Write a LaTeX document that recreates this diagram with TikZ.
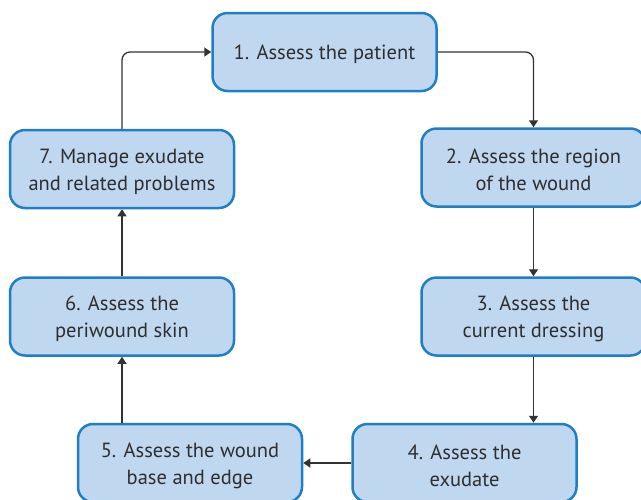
\documentclass[tikz,border=0pt]{standalone}
\usepackage{fontspec}
\setmainfont{PT Sans}
\usetikzlibrary{arrows.meta}
\definecolor{boxfill}{HTML}{C0D7F0}
\definecolor{boxline}{HTML}{1E7FC6}
\definecolor{txt}{HTML}{2E2E2E}
\definecolor{arr}{HTML}{333333}
\newcommand{\topstrut}{\rule{0pt}{19.5pt}}
\begin{document}
\begin{tikzpicture}[x=1pt,y=-1pt,
  stepbox/.style={draw=boxline, fill=boxfill, line width=2.5pt, rounded corners=15pt,
    minimum width=224pt, minimum height=78pt, align=center, text=txt,
    font=\fontsize{20.5}{27}\selectfont, inner sep=0pt},
  conn/.style={draw=arr, line width=1.3pt, -{Triangle[length=7pt,width=9pt]}}]
\useasboundingbox (0,0) rectangle (641,499);
\node[stepbox] (n1) at (324.5,52) {\topstrut 1. Assess the patient};
\node[stepbox] (n2) at (533.5,167.5) {\topstrut 2. Assess the region\\of the wound};
\node[stepbox] (n3) at (533.5,316.5) {\topstrut 3. Assess the\\current dressing};
\node[stepbox] (n4) at (464.5,463) {\topstrut 4. Assess the\\exudate};
\node[stepbox] (n5) at (190,463) {\topstrut 5. Assess the wound\\base and edge};
\node[stepbox] (n6) at (122,316.5) {\topstrut 6. Assess the\\periwound skin};
\node[stepbox] (n7) at (122,169) {\topstrut 7. Manage exudate\\and related problems};
\draw[conn, rounded corners=8pt] (n1.east) -| (n2.north);
\draw[conn] (n2.south) -- (n3.north);
\draw[conn] (n3.south) -- (n3.south |- n4.north);
\draw[conn] (n4.west) -- (n4.west -| n5.east);
\draw[conn] (n6.south |- n5.north) -- (n6.south);
\draw[conn] (n6.north) -- (n7.south);
\draw[conn, rounded corners=8pt] (n7.north) |- (n1.west);
\end{tikzpicture}
\end{document}
